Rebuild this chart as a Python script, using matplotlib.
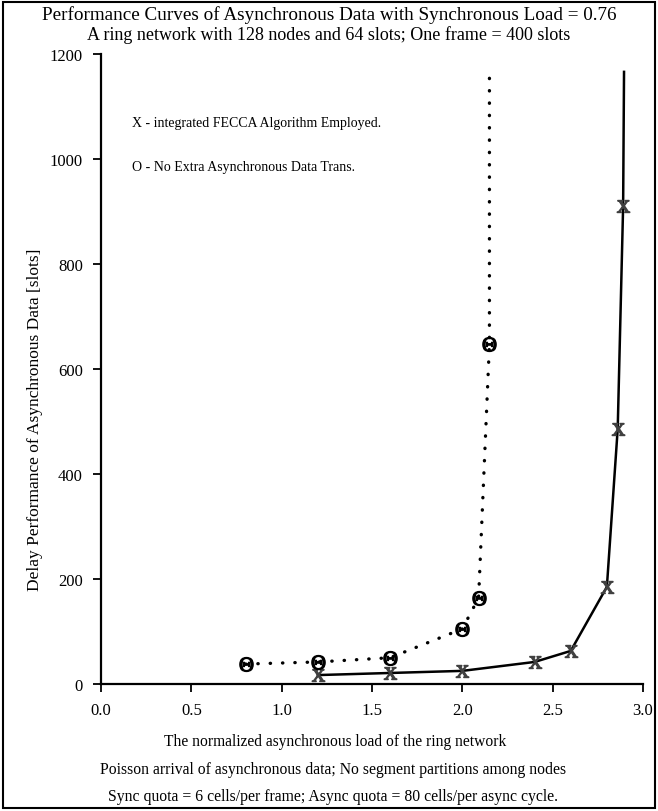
import matplotlib
matplotlib.use("Agg")
import matplotlib.pyplot as plt
from matplotlib.patches import Rectangle

plt.rcParams["font.family"] = ["Liberation Serif", "DejaVu Serif"]
plt.rcParams["mathtext.fontset"] = "custom"
plt.rcParams["mathtext.rm"] = "Liberation Serif"

# integrated FECCA algorithm (X); last point is the line running off the top
fecca_load = [1.2, 1.6, 2.0, 2.4, 2.6, 2.8, 2.86, 2.89, 2.895]
fecca_delay = [17, 21, 25, 42, 63, 185, 486, 910, 1166]

# no extra asynchronous data transmission (O)
plain_load = [0.8, 1.2, 1.6, 2.0, 2.09, 2.15, 2.15]
plain_delay = [38, 42, 50, 105, 164, 648, 1166]

x_ticks = [0.0, 0.5, 1.0, 1.5, 2.0, 2.5, 3.0]
y_ticks = [0, 200, 400, 600, 800, 1000, 1200]

fig = plt.figure(figsize=(6.58, 8.12), dpi=100)
# axes box: x 101..643 px, y 55..685 px
ax = fig.add_axes([101 / 658, 1 - 685 / 812, 542 / 658, 630 / 812])

ax.plot(fecca_load, fecca_delay, color="black", lw=1.8,
        marker=r"$\mathrm{X}$", ms=9, mec="0.25", mfc="0.25",
        markevery=list(range(len(fecca_load) - 1)))
ax.plot(plain_load, plain_delay, color="black", lw=2.4,
        linestyle=(0, (0.1, 3.6)), dash_capstyle="round")
ax.plot(plain_load[:-1], plain_delay[:-1], linestyle="none",
        marker=r"$\Theta$", ms=10, color="black")

ax.set_xlim(0, 3.0)
ax.set_ylim(0, 1200)
ax.set_xticks(x_ticks)
ax.set_xticklabels([f"{v:.1f}" for v in x_ticks])
ax.set_yticks(y_ticks)
for side in ("top", "right"):
    ax.spines[side].set_visible(False)
for side in ("left", "bottom"):
    ax.spines[side].set_linewidth(1.6)
ax.tick_params(direction="out", length=6, width=1.3, labelsize=12, pad=7)

ax.text(31 / 542, (685 - 123) / 630, "X - integrated FECCA Algorithm Employed.",
        transform=ax.transAxes, fontsize=10, va="center")
ax.text(31 / 542, (685 - 167) / 630, "O - No Extra Asynchronous Data Trans.",
        transform=ax.transAxes, fontsize=10, va="center")

fig.text(0.5, 1 - 15 / 812,
         "Performance Curves of Asynchronous Data with Synchronous Load = 0.76",
         ha="center", va="center", fontsize=13.8)
fig.text(0.5, 1 - 35 / 812,
         "A ring network with 128 nodes and 64 slots; One frame = 400 slots",
         ha="center", va="center", fontsize=13)
fig.text(35 / 658, 1 - 420 / 812,
         "Delay Performance of Asynchronous Data [slots]",
         rotation=90, ha="center", va="center", fontsize=12.5)
fig.text(335 / 658, 1 - 742 / 812,
         "The normalized asynchronous load of the ring network",
         ha="center", va="center", fontsize=11.2)
fig.text(333 / 658, 1 - 770 / 812,
         "Poisson arrival of asynchronous data; No segment partitions among nodes",
         ha="center", va="center", fontsize=11.3)
fig.text(333 / 658, 1 - 797 / 812,
         "Sync quota = 6 cells/per frame; Async quota = 80 cells/per async cycle.",
         ha="center", va="center", fontsize=11.3)

fig.patches.append(Rectangle((3 / 658, 3 / 812), 652 / 658, 806 / 812,
                             transform=fig.transFigure, fill=False,
                             lw=1.5, ec="black"))

fig.savefig("out.png", dpi=100)
